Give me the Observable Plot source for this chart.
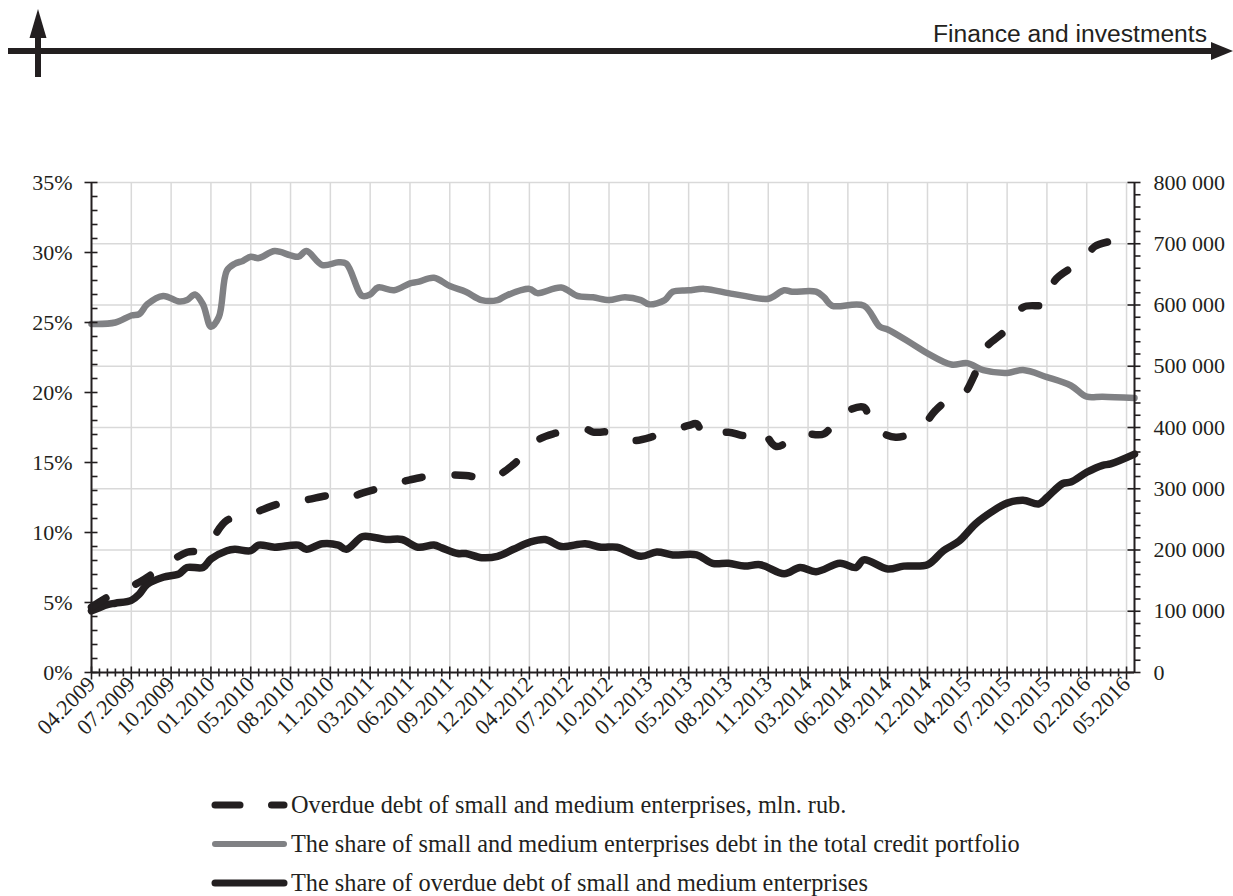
<!DOCTYPE html>
<html><head><meta charset="utf-8">
<script src="https://cdn.jsdelivr.net/npm/d3@7"></script>
<script src="https://cdn.jsdelivr.net/npm/@observablehq/plot@0.6"></script>
<style>
body{margin:0;background:#fff;}
#page{position:relative;width:1233px;height:896px;overflow:hidden;background:#fff;}
#chart{position:absolute;left:0;top:160px;}
#header,#legend{position:absolute;left:0;top:0;}
#chart svg text{font-family:'Liberation Serif','Times New Roman',serif !important;font-size:22px !important;}
</style></head><body>
<div id="page">
<svg id="header" width="1233" height="90">
  <rect x="8" y="48" width="1206" height="6" fill="#231f20"/>
  <polygon points="1211,42 1233,51 1211,60" fill="#231f20"/>
  <rect x="35" y="36" width="6" height="41" fill="#231f20"/>
  <polygon points="38,9 29.5,38 46.5,38" fill="#231f20"/>
  <text x="933" y="42" textLength="274" lengthAdjust="spacingAndGlyphs" font-family="'Liberation Sans', Arial, sans-serif" font-size="23" fill="#231f20">Finance and investments</text>
</svg>
<div id="chart"></div>
<svg id="legend" width="1233" height="896" style="pointer-events:none"></svg>
</div>
<script>
// ---- tick labels (every 5th category) ----
const tickLabels = ["04.2009","07.2009","10.2009","01.2010","05.2010","08.2010","11.2010","03.2011","06.2011","09.2011","12.2011","04.2012","07.2012","10.2012","01.2013","05.2013","08.2013","11.2013","03.2014","06.2014","09.2014","12.2014","04.2015","07.2015","10.2015","02.2016","05.2016"];
const rightTickLabels = ["0","100 000","200 000","300 000","400 000","500 000","600 000","700 000","800 000"];
const rightTickValues = [0,100000,200000,300000,400000,500000,600000,700000,800000];
const leftTickValues = [0,5,10,15,20,25,30,35];

// ---- series: share of SME debt in total credit portfolio (%) ----
const shareIdx = [0,3,5,6,7,9,11,12,13,14,15,16,17,18,19,20,21,23,25,26,27,29,31,32,34,35,36,38,40,41,43,45,47,49,51,52,55,56,59,61,63,65,67,69,70,72,73,75,77,80,82,85,87,88,91,92,93,97,99,100,103,105,108,110,112,115,117,120,123,125,127,131];
const shareVal = [24.9,25.0,25.5,25.6,26.3,26.9,26.5,26.6,27.0,26.3,24.7,25.4,28.7,29.2,29.4,29.7,29.6,30.1,29.8,29.7,30.1,29.1,29.3,29.2,26.9,27.0,27.5,27.3,27.8,27.9,28.2,27.6,27.2,26.6,26.6,26.9,27.4,27.1,27.5,26.9,26.8,26.6,26.8,26.6,26.3,26.6,27.2,27.3,27.4,27.1,26.9,26.7,27.3,27.2,27.2,26.8,26.2,26.2,24.7,24.5,23.5,22.8,22.0,22.1,21.6,21.4,21.6,21.1,20.5,19.7,19.7,19.6];

// ---- series: share of overdue SME debt (%) ----
const overdueShareIdx = [0,2,3,5,6,7,9,11,12,14,15,17,18,20,21,23,26,27,29,31,32,34,35,37,39,41,43,44,46,47,49,51,53,55,57,59,62,64,66,69,71,73,76,78,80,82,84,87,89,91,94,96,97,100,102,105,107,109,111,113,115,117,119,120,122,123,125,127,128,131];
const overdueShareVal = [4.4,4.85,4.95,5.15,5.6,6.3,6.8,7.05,7.5,7.5,8.1,8.7,8.8,8.7,9.1,8.95,9.1,8.8,9.2,9.1,8.8,9.7,9.7,9.5,9.5,8.95,9.1,8.9,8.5,8.5,8.2,8.3,8.8,9.3,9.5,9.0,9.2,8.95,8.95,8.3,8.6,8.4,8.4,7.8,7.8,7.6,7.7,7.05,7.5,7.2,7.8,7.5,8.05,7.4,7.6,7.7,8.7,9.4,10.6,11.45,12.1,12.3,12.05,12.5,13.5,13.6,14.3,14.8,14.9,15.6];

// ---- series: overdue SME debt, mln rub (right axis) ----
const overdueDebtIdx = [0,2,6,9,12,14,15,17,20,24,27,30,32,34,37,40,43,47,50,53,56,58,62,63,65,68,71,75,76,77,80,82,84,86,89,92,94,97,98,101,104,106,107,109,111,112,115,117,120,121,124,125,126,129,131];
const overdueDebtVal = [106600,123000,147400,173000,196400,199200,214400,248200,259000,277000,282000,289000,284600,292800,303700,314600,321600,321600,316200,339600,378800,389700,397900,392400,392400,378800,387000,403300,406000,385800,392400,387000,397900,369000,389700,389700,419600,433100,403300,384200,397900,427700,438700,445200,488600,525700,561100,596400,601900,640000,668200,679200,695500,708100,721600];

const legendLabels = [
  "Overdue debt of small and medium enterprises, mln. rub.",
  "The share of small and medium enterprises debt in the total credit portfolio",
  "The share of overdue debt of small and medium enterprises"
];

// ---- build ----
const INK = "#231f20", GRAY = "#808184", GRID = "#d9d9d9";
const N = 131, LMAX = 35, RMAX = 800000;
const toLeft = v => v / RMAX * LMAX;

const share = shareIdx.map((i, k) => ({i, v: shareVal[k]}));
const overdueShare = overdueShareIdx.map((i, k) => ({i, v: overdueShareVal[k]}));
const overdueDebt = overdueDebtIdx.map((i, k) => ({i, v: overdueDebtVal[k]}));

const majorX = d3.range(0, N, 5);
const minorX = d3.range(1, N).filter(i => i % 5);
const leftMinor = d3.range(1, LMAX).filter(v => v % 5);
const rightMajor = rightTickValues.map(toLeft);
const rightMinor = d3.range(20000, RMAX, 20000).filter(v => v % 100000).map(toLeft);

const hTick = (a, b) => ({draw(ctx) { ctx.moveTo(-a, 0); ctx.lineTo(b, 0); }});
const vTick = (a, b) => ({draw(ctx) { ctx.moveTo(0, -a); ctx.lineTo(0, b); }});
const tickStyle = {r: 1, fill: "none", stroke: INK, strokeWidth: 1.6};
const FONT = "'Liberation Serif', 'Times New Roman', serif";
const CURVE = "catmull-rom";

const chart = Plot.plot({
  width: 1233, height: 620,
  marginLeft: 91, marginRight: 99, marginTop: 22, marginBottom: 108,
  style: {fontFamily: FONT, fontSize: "22px", color: INK, background: "white", overflow: "visible"},
  x: {domain: [0, N]},
  y: {domain: [0, LMAX]},
  marks: [
    Plot.ruleX(majorX.slice(1), {stroke: GRID, strokeWidth: 1.5}),
    Plot.ruleY(rightMajor.slice(1), {stroke: GRID, strokeWidth: 1.5}),
    Plot.line(share, {x: "i", y: "v", stroke: GRAY, strokeWidth: 6.5, curve: CURVE, strokeLinejoin: "round", strokeLinecap: "round"}),
    Plot.line(overdueShare, {x: "i", y: "v", stroke: INK, strokeWidth: 7.5, curve: CURVE, strokeLinejoin: "round", strokeLinecap: "round"}),
    Plot.line(overdueDebt, {x: "i", y: d => toLeft(d.v), stroke: INK, strokeWidth: 7.5, curve: CURVE, strokeLinejoin: "round", strokeLinecap: "round", strokeDasharray: "17,33"}),
    // axis lines
    Plot.ruleX([0], {stroke: INK, strokeWidth: 2}),
    Plot.ruleX([N], {stroke: INK, strokeWidth: 2}),
    Plot.ruleY([0], {stroke: INK, strokeWidth: 2}),
    // tick marks
    Plot.dot(majorX, {x: d => d, y: 0, symbol: vTick(6, 7), ...tickStyle}),
    Plot.dot(minorX, {x: d => d, y: 0, symbol: vTick(4, 4), ...tickStyle}),
    Plot.dot(leftTickValues, {x: 0, y: d => d, symbol: hTick(7, 6), ...tickStyle}),
    Plot.dot(leftMinor, {x: 0, y: d => d, symbol: hTick(0, 6), ...tickStyle}),
    Plot.dot(rightMajor, {x: N, y: d => d, symbol: hTick(7, 6), ...tickStyle}),
    Plot.dot(rightMinor, {x: N, y: d => d, symbol: hTick(0, 6), ...tickStyle}),
    // axis labels
    Plot.axisY(leftTickValues, {anchor: "left", tickSize: 0, tickPadding: 19, tickFormat: d => d + "%", fontSize: 22, fontFamily: FONT, fill: INK, label: null}),
    Plot.axisY(rightMajor, {anchor: "right", tickSize: 0, tickPadding: 19, tickFormat: d => rightTickLabels[Math.round(d / LMAX * 8)], fontSize: 22, fontFamily: FONT, fill: INK, label: null}),
    Plot.axisX(majorX, {anchor: "bottom", tickSize: 0, tickPadding: 8, tickRotate: -45, tickFormat: d => tickLabels[Math.round(d / 5)], fontSize: 22, fontFamily: FONT, fill: INK, label: null})
  ]
});
d3.select(chart).selectAll("text").style("font-family", FONT).style("font-size", "22px");
document.getElementById("chart").appendChild(chart);

// ---- legend ----
const lg = d3.select("#legend");
const rows = [805, 844, 883];
lg.append("line").attr("x1", 215).attr("x2", 240).attr("y1", rows[0]).attr("y2", rows[0])
  .attr("stroke", INK).attr("stroke-width", 7).attr("stroke-linecap", "round");
lg.append("line").attr("x1", 271.5).attr("x2", 284).attr("y1", rows[0]).attr("y2", rows[0])
  .attr("stroke", INK).attr("stroke-width", 7).attr("stroke-linecap", "round");
lg.append("line").attr("x1", 215).attr("x2", 284).attr("y1", rows[1]).attr("y2", rows[1])
  .attr("stroke", GRAY).attr("stroke-width", 6).attr("stroke-linecap", "round");
lg.append("line").attr("x1", 215).attr("x2", 284).attr("y1", rows[2]).attr("y2", rows[2])
  .attr("stroke", INK).attr("stroke-width", 7).attr("stroke-linecap", "round");
legendLabels.forEach((t, k) => {
  lg.append("text").attr("x", 291).attr("y", rows[k] + 8)
    .attr("font-family", FONT).attr("font-size", 24.3).attr("fill", INK).text(t);
});
</script>
</body></html>
